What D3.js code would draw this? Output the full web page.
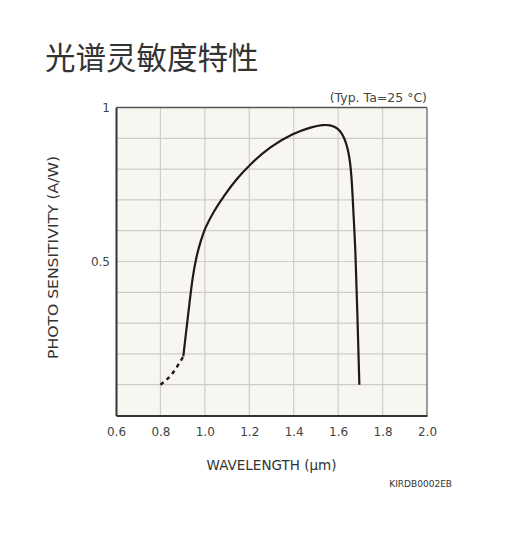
<!DOCTYPE html>
<html>
<head>
<meta charset="utf-8">
<script src="https://cdn.jsdelivr.net/npm/d3@7"></script>
<style>
  html, body { margin: 0; padding: 0; background: #ffffff; }
  svg { display: block; }
</style>
</head>
<body>
<svg id="chart" width="528" height="556"></svg>
<script>
// ---- data ----
const titleText = "光谱灵敏度特性";
const conditionText = "(Typ. Ta=25 °C)";
const xAxisTitle = "WAVELENGTH (μm)";
const yAxisTitle = "PHOTO SENSITIVITY (A/W)";
const docCode = "KIRDB0002EB";

const xTickValues = [0.6, 0.8, 1.0, 1.2, 1.4, 1.6, 1.8, 2.0];
const xTickLabels = ["0.6", "0.8", "1.0", "1.2", "1.4", "1.6", "1.8", "2.0"];
const yTickValues = [0.5, 1];
const yTickLabels = ["0.5", "1"];
const yGridValues = [0.1, 0.2, 0.3, 0.4, 0.5, 0.6, 0.7, 0.8, 0.9];

// dashed (extrapolated) segment
const dashedWavelength = [0.80, 0.85, 0.903];
const dashedSensitivity = [0.100, 0.133, 0.192];

// solid segment
const solidWavelength = [0.903, 0.917, 0.931, 0.944, 0.962, 0.983, 1.000, 1.040, 1.083, 1.140, 1.200, 1.293, 1.400, 1.480, 1.533, 1.564, 1.590, 1.609, 1.625, 1.638, 1.648, 1.655, 1.660, 1.664, 1.668, 1.678, 1.687, 1.6955];
const solidSensitivity = [0.192, 0.280, 0.366, 0.446, 0.518, 0.570, 0.608, 0.663, 0.710, 0.766, 0.813, 0.873, 0.917, 0.937, 0.944, 0.943, 0.936, 0.924, 0.905, 0.880, 0.850, 0.815, 0.775, 0.730, 0.667, 0.540, 0.320, 0.100];

// ---- layout ----
const svg = d3.select("#chart");
const plot = { left: 116, right: 427, top: 107.5, bottom: 415.5 };

const x = d3.scaleLinear().domain([0.6, 2.0]).range([plot.left, plot.right]);
const y = d3.scaleLinear().domain([0, 1]).range([plot.bottom, plot.top]);

// title
svg.append("text")
  .attr("x", 45).attr("y", 69)
  .attr("font-family", "'Noto Sans CJK SC', 'Noto Sans', sans-serif")
  .attr("font-size", 30.5)
  .attr("fill", "#333")
  .text(titleText);

// plot background
svg.append("rect")
  .attr("x", plot.left).attr("y", plot.top)
  .attr("width", plot.right - plot.left).attr("height", plot.bottom - plot.top)
  .attr("fill", "#f7f6f0");

// grid
const grid = svg.append("g").attr("stroke", "#cfcdc8").attr("stroke-width", 1.2);
grid.selectAll("line.v").data(xTickValues.slice(1, -1)).enter().append("line")
  .attr("x1", d => x(d)).attr("x2", d => x(d))
  .attr("y1", plot.top).attr("y2", plot.bottom);
grid.selectAll("line.h").data(yGridValues).enter().append("line")
  .attr("x1", plot.left).attr("x2", plot.right)
  .attr("y1", d => y(d)).attr("y2", d => y(d));

// frame
svg.append("line").attr("x1", plot.left).attr("x2", plot.right).attr("y1", plot.top).attr("y2", plot.top)
  .attr("stroke", "#555").attr("stroke-width", 1.5);
svg.append("line").attr("x1", plot.right).attr("x2", plot.right).attr("y1", plot.top).attr("y2", plot.bottom)
  .attr("stroke", "#666").attr("stroke-width", 1.3);

// axes (using d3 axes for labels)
const xAxis = d3.axisBottom(x).tickValues(xTickValues)
  .tickFormat((d, i) => xTickLabels[i]).tickSize(0).tickPadding(12);
const gx = svg.append("g").attr("transform", `translate(0,${plot.bottom})`).call(xAxis);
gx.select(".domain").attr("stroke", "#333").attr("stroke-width", 2);
gx.selectAll("text").attr("font-family", "'DejaVu Sans', sans-serif").attr("font-size", 12).attr("fill", "#444");

const yAxis = d3.axisLeft(y).tickValues(yTickValues)
  .tickFormat((d, i) => yTickLabels[i]).tickSize(0).tickPadding(6);
const gy = svg.append("g").attr("transform", `translate(${plot.left},0)`).call(yAxis);
gy.select(".domain").attr("stroke", "#333").attr("stroke-width", 2);
gy.selectAll("text").attr("font-family", "'DejaVu Sans', sans-serif").attr("font-size", 12).attr("fill", "#444");

// curves
const dashedLine = d3.line().x(d => x(d[0])).y(d => y(d[1])).curve(d3.curveMonotoneX);
const solidLine = d3.line().x(d => x(d[0])).y(d => y(d[1])).curve(d3.curveBasis);
const dashedData = dashedWavelength.map((w, i) => [w, dashedSensitivity[i]]);
const solidData = solidWavelength.map((w, i) => [w, solidSensitivity[i]]);

svg.append("path").datum(dashedData).attr("d", dashedLine)
  .attr("fill", "none").attr("stroke", "#231815").attr("stroke-width", 2.4)
  .attr("stroke-dasharray", "4,4");
svg.append("path").datum(solidData).attr("d", solidLine)
  .attr("fill", "none").attr("stroke", "#231815").attr("stroke-width", 2.2)
  .attr("stroke-linejoin", "round");

// condition text
svg.append("text")
  .attr("x", plot.right).attr("y", 102)
  .attr("text-anchor", "end")
  .attr("font-family", "'DejaVu Sans', sans-serif")
  .attr("font-size", 12.5).attr("fill", "#444")
  .text(conditionText);

// axis titles
svg.append("text")
  .attr("x", (plot.left + plot.right) / 2).attr("y", 470)
  .attr("text-anchor", "middle")
  .attr("font-family", "'DejaVu Sans', sans-serif")
  .attr("font-size", 13.5).attr("fill", "#333")
  .text(xAxisTitle);

svg.append("text")
  .attr("transform", `translate(58,${(plot.top + plot.bottom) / 2 - 4}) rotate(-90)`)
  .attr("text-anchor", "middle")
  .attr("font-family", "'DejaVu Sans', sans-serif")
  .attr("font-size", 14).attr("fill", "#333")
  .attr("textLength", 203).attr("lengthAdjust", "spacingAndGlyphs")
  .text(yAxisTitle);

// document code
svg.append("text")
  .attr("x", 452).attr("y", 487)
  .attr("text-anchor", "end")
  .attr("font-family", "'DejaVu Sans', sans-serif")
  .attr("font-size", 9).attr("fill", "#333")
  .text(docCode);
</script>
</body>
</html>
